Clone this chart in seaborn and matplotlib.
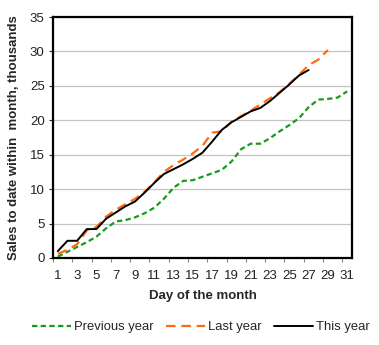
import matplotlib
matplotlib.use("Agg")
import matplotlib.pyplot as plt
import seaborn as sns
import pandas as pd

# Cumulative sales within the month, in thousands
days_prev = list(range(1, 32))
previous_year = [0.2, 0.9, 1.6, 2.3, 3.1, 4.3, 5.3, 5.5, 5.9, 6.5, 7.3, 8.6, 10.2, 11.2, 11.3,
                 11.8, 12.3, 12.8, 14.0, 15.8, 16.6, 16.6, 17.4, 18.4, 19.3, 20.3, 21.9, 23.0,
                 23.1, 23.3, 24.2]
days_last = list(range(1, 30))
last_year = [0.6, 1.2, 2.0, 4.0, 4.5, 6.0, 7.0, 7.8, 8.6, 9.6, 11.0, 12.5, 13.5, 14.3, 15.2,
             16.3, 18.2, 18.4, 19.8, 20.6, 21.4, 22.3, 23.2, 24.1, 25.3, 26.6, 28.0, 28.8, 30.2]
days_this = list(range(1, 28))
this_year = [1.0, 2.5, 2.5, 4.2, 4.2, 5.7, 6.6, 7.5, 8.2, 9.5, 10.9, 12.2, 12.9, 13.6, 14.4,
             15.3, 16.9, 18.6, 19.7, 20.5, 21.3, 21.8, 22.8, 24.0, 25.2, 26.5, 27.3]

series_names = ["Previous year", "Last year", "This year"]
x_tick_labels = [str(d) for d in range(1, 32, 2)]
y_ticks = list(range(0, 36, 5))

sns.set_theme(style="white")
plt.rcParams["font.family"] = ["Liberation Sans", "DejaVu Sans"]

fig = plt.figure(figsize=(3.79, 3.45), dpi=100)
ax = fig.add_axes([53 / 379, 1 - 258 / 345, 299 / 379, 241 / 345])

styles = [
    dict(color="#1a9a1a", linestyle=(0, (2.4, 1.5)), linewidth=1.6),
    dict(color="#ff6a10", linestyle=(0, (4.3, 2.6)), linewidth=1.6),
    dict(color="black", linestyle="-", linewidth=1.4),
]
data = [(days_prev, previous_year), (days_last, last_year), (days_this, this_year)]
for (xs, ys), name, st in zip(data, series_names, styles):
    df = pd.DataFrame({"day": xs, "sales": ys})
    sns.lineplot(data=df, x="day", y="sales", ax=ax, label=name, **st)

ax.set_xlim(0.5, 31.5)
ax.set_ylim(0, 35)
ax.set_yticks(y_ticks)
ax.set_xticks(range(1, 32, 2))
ax.set_xticklabels(x_tick_labels)
ax.set_xticks([d + 0.5 for d in range(0, 31, 2)], minor=True)
ax.tick_params(axis="x", which="major", length=0, labelsize=9.5, pad=8.5, colors="#222222")
ax.tick_params(axis="x", which="minor", length=3, width=0.8, color="#888888", direction="out",
               bottom=True)
ax.tick_params(axis="y", which="major", length=3, width=0.8, color="#888888", direction="out",
               left=True, labelsize=9.5, pad=3, colors="#222222")
ax.tick_params(axis="y", colors="#222222")
ax.grid(axis="y", color="#c4c4c4", linewidth=0.9)
ax.set_axisbelow(True)
for sp in ax.spines.values():
    sp.set_visible(True)
    sp.set_color("black")
    sp.set_linewidth(1.6)

ax.set_xlabel("Day of the month", fontsize=9.5, fontweight="bold", labelpad=6)
ax.set_ylabel("Sales to date within  month, thousands", fontsize=9.5, fontweight="bold",
              labelpad=7)

handles, labels = ax.get_legend_handles_labels()
ax.get_legend().remove()
fig.legend(handles, labels, loc="center", bbox_to_anchor=(0.53, 0.052), ncol=3, frameon=False,
           fontsize=9.4, handlelength=3.0, columnspacing=0.95, handletextpad=0.2)

fig.savefig("out.png", dpi=100)
